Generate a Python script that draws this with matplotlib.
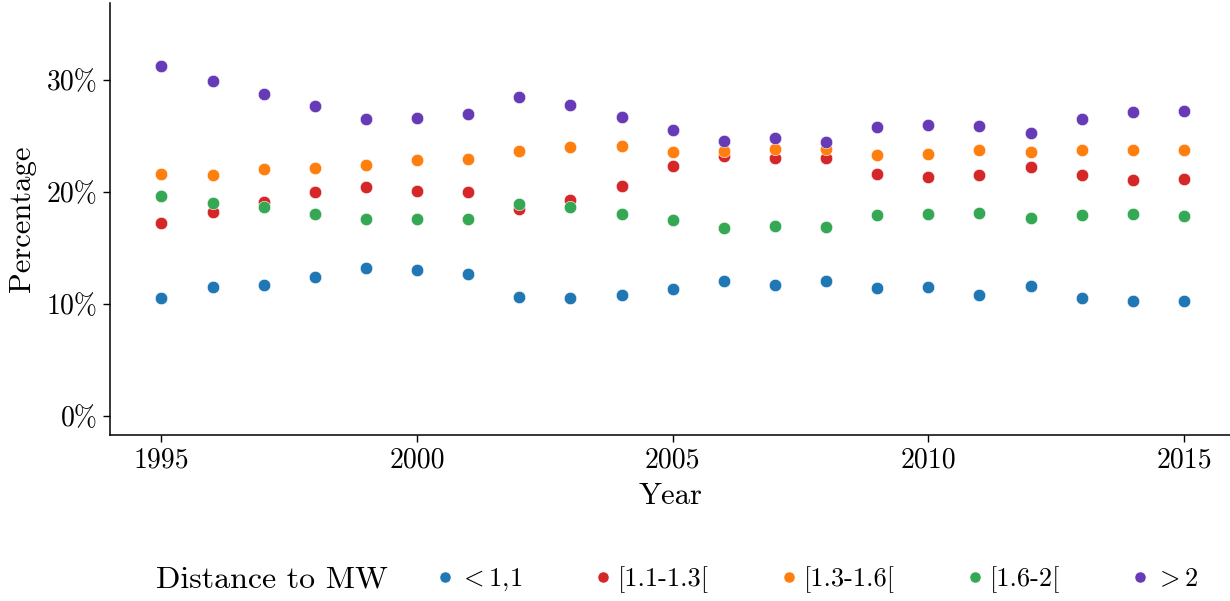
import matplotlib
matplotlib.use("Agg")
import matplotlib.pyplot as plt
from matplotlib.ticker import FuncFormatter
from matplotlib.lines import Line2D

plt.rcParams["font.family"] = "serif"
plt.rcParams["font.serif"] = ["cmr10", "DejaVu Serif"]
plt.rcParams["mathtext.fontset"] = "cm"
plt.rcParams["axes.unicode_minus"] = False

# data (percentages)
years = list(range(1995, 2016))
groups = ["${<}$1,1", "[1.1-1.3[", "[1.3-1.6[", "[1.6-2[", "${>}$2"]
colors = ["#1f77b4", "#d62728", "#ff7f0e", "#34a853", "#673ab7"]

lt_1_1 = [10.5, 11.5, 11.7, 12.4, 13.15, 13.0, 12.7, 10.65, 10.5, 10.8, 11.3,
          12.05, 11.7, 12.05, 11.45, 11.5, 10.8, 11.55, 10.55, 10.25, 10.25]
d_1_1_1_3 = [17.2, 18.2, 19.1, 20.0, 20.4, 20.1, 20.0, 18.5, 19.3, 20.5, 22.3,
             23.15, 23.0, 23.0, 21.6, 21.3, 21.5, 22.2, 21.5, 21.0, 21.1]
d_1_3_1_6 = [21.6, 21.5, 22.0, 22.1, 22.4, 22.8, 22.9, 23.6, 24.0, 24.05, 23.5,
             23.6, 23.8, 23.8, 23.3, 23.4, 23.75, 23.5, 23.7, 23.7, 23.7]
d_1_6_2 = [19.6, 19.0, 18.6, 18.0, 17.6, 17.6, 17.6, 18.9, 18.6, 18.0, 17.5,
           16.8, 16.9, 16.85, 17.9, 18.0, 18.1, 17.65, 17.9, 18.0, 17.85]
gt_2 = [31.2, 29.9, 28.7, 27.6, 26.5, 26.6, 26.9, 28.4, 27.7, 26.7, 25.5,
        24.5, 24.8, 24.4, 25.8, 25.95, 25.9, 25.2, 26.5, 27.1, 27.2]
series = [lt_1_1, d_1_1_1_3, d_1_3_1_6, d_1_6_2, gt_2]

fig = plt.figure(figsize=(12.3, 6.01), dpi=100)
ax = fig.add_axes([0.0897, 0.2762, 0.9103, 0.7183])

# draw in order so purple/green sit on top like the original
for vals, col in zip(series, colors):
    ax.scatter(years, vals, s=80, color=col, edgecolors="white", linewidths=0.4, zorder=3)

ax.set_xlim(1994.0, 2015.9)
ax.set_ylim(-1.7, 36.8)
ax.set_xticks([1995, 2000, 2005, 2010, 2015])
ax.set_yticks([0, 10, 20, 30])
ax.yaxis.set_major_formatter(FuncFormatter(lambda v, p: "%d%%" % v))

for s in ["top", "right"]:
    ax.spines[s].set_visible(False)
for s in ["left", "bottom"]:
    ax.spines[s].set_linewidth(1.1)
ax.tick_params(direction="out", length=5, width=1.0, labelsize=20, pad=4)

ax.set_xlabel("Year", fontsize=22, labelpad=6)
ax.set_ylabel("Percentage", fontsize=22, labelpad=8)

# legend along the bottom, title on the left
fig.text(0.127, 0.035, "Distance to MW", fontsize=23, va="center", ha="left")
handles = [Line2D([], [], marker="o", linestyle="none", markersize=8,
                  markerfacecolor=c, markeredgecolor="white", markeredgewidth=0.4)
           for c in colors]
fig.legend(handles, groups, loc="center left", bbox_to_anchor=(0.355, 0.035),
           ncol=5, frameon=False, fontsize=19, handlelength=0.6,
           handletextpad=0.25, columnspacing=2.75, borderpad=0, borderaxespad=0)

fig.savefig("out.png", dpi=100)
